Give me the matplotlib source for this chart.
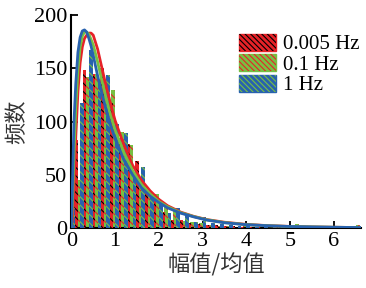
import matplotlib
matplotlib.use("Agg")
import matplotlib.pyplot as plt
import numpy as np
from matplotlib.patches import Patch
from matplotlib.legend_handler import HandlerTuple

# histogram bins (left edges, width 0.2)
bin_left = np.arange(0.0, 6.6, 0.2)

count_005 = [83, 148, 145, 150, 117, 85, 79, 63, 36, 32, 15, 8, 8, 5, 4, 3, 3,
             2, 2, 1, 1, 1, 0, 1, 0, 0, 1, 0, 0, 0, 0, 0, 0]
count_01 = [45, 142, 145, 135, 130, 90, 78, 45, 33, 32, 23, 17, 7, 6, 5, 3, 2,
            2, 1, 2, 1, 1, 1, 0, 1, 4, 0, 1, 0, 1, 1, 0, 3]
count_1 = [19, 117, 167, 136, 144, 98, 89, 53, 57, 31, 23, 14, 19, 13, 6, 10, 5,
           4, 3, 2, 2, 1, 2, 1, 1, 1, 0, 2, 1, 1, 0, 1, 0]

# fitted curves
fit_x = [0, 0.03, 0.06, 0.1, 0.15, 0.2, 0.25, 0.3, 0.35, 0.4, 0.45, 0.5, 0.6, 0.7,
         0.8, 0.9, 1.0, 1.2, 1.4, 1.6, 1.8, 2.0, 2.2, 2.5, 2.8, 3.1, 3.5, 4.0,
         4.5, 5.0, 5.5, 6.0, 6.6]
fit_005 = [0, 12, 40, 85, 128, 155, 170, 178, 181, 183, 183, 181, 168, 150,
           132, 116, 101, 78, 59, 45, 35, 27, 21, 15, 11, 8, 5.5, 3.5,
           2.3, 1.6, 1.1, 0.8, 0.5]
fit_01 = [0, 30, 70, 112, 148, 170, 180, 184, 184, 182, 177, 172, 156, 138,
          121, 105, 92, 71, 54, 41, 32, 25, 20, 14.5, 10.8, 7.8, 5.2, 3.3,
          2.2, 1.5, 1.1, 0.8, 0.5]
fit_1 = [0, 50, 100, 135, 165, 179, 185, 186, 184, 178, 171, 162, 143, 126,
         110, 96, 84, 64, 50, 38, 30, 24, 19, 14, 10.5, 7.5, 5, 3.2,
         2.2, 1.5, 1.1, 0.8, 0.5]

labels = ["0.005 Hz", "0.1 Hz", "1 Hz"]
red, green, blue = "#e62228", "#77c043", "#2862ae"

plt.rcParams["font.family"] = ["Liberation Serif", "DejaVu Serif"]
plt.rcParams["hatch.linewidth"] = 0.8

fig = plt.figure(figsize=(3.66, 2.88), dpi=100)
ax = fig.add_axes([0.195, 0.208, 0.791, 0.740])

w = 0.085
ax.bar(bin_left + 0.16, count_01, width=w, color=green, edgecolor=red,
       hatch="\\\\\\\\", linewidth=0, zorder=2)
ax.bar(bin_left + 0.10, count_005, width=w, color=red, edgecolor="black",
       hatch="\\\\\\\\", linewidth=0, zorder=3)
ax.bar(bin_left + 0.045, count_1, width=w, color=blue, edgecolor=green,
       hatch="\\\\\\\\", linewidth=0, zorder=4)

ax.plot(fit_x, fit_005, color=red, lw=2.0, zorder=5)
ax.plot(fit_x, fit_01, color=green, lw=2.0, zorder=5)
ax.plot(fit_x, fit_1, color=blue, lw=2.0, zorder=6)

ax.set_xlim(0, 6.62)
ax.set_ylim(0, 200)
ax.set_xticks(range(0, 7))
ax.set_yticks(range(0, 201, 50))
ax.tick_params(direction="in", length=5, width=1.3, labelsize=16, pad=3)
for s in ["top", "right"]:
    ax.spines[s].set_visible(False)
for s in ["left", "bottom"]:
    ax.spines[s].set_linewidth(1.5)

cjk = ["Noto Sans CJK SC", "DejaVu Sans"]
ax.set_xlabel("幅值/均值", fontsize=16, family=cjk, color="#333333", labelpad=1)
ax.set_ylabel("频数", fontsize=16, family=cjk, color="#333333", labelpad=4)

handles = []
for fc, hc in [(red, "black"), (green, red), (blue, green)]:
    handles.append((Patch(facecolor=fc, edgecolor=fc, linewidth=1.0),
                    Patch(facecolor="none", edgecolor=hc, hatch="\\\\\\\\\\\\", linewidth=0)))
ax.legend(handles, labels, handler_map={tuple: HandlerTuple(ndivide=1, pad=0)},
          loc="upper right", bbox_to_anchor=(1.03, 0.96), frameon=False,
          fontsize=15, handlelength=1.8, handleheight=0.85, labelspacing=0.0,
          handletextpad=0.3, borderpad=0.0)

fig.savefig("out.png", dpi=100)
